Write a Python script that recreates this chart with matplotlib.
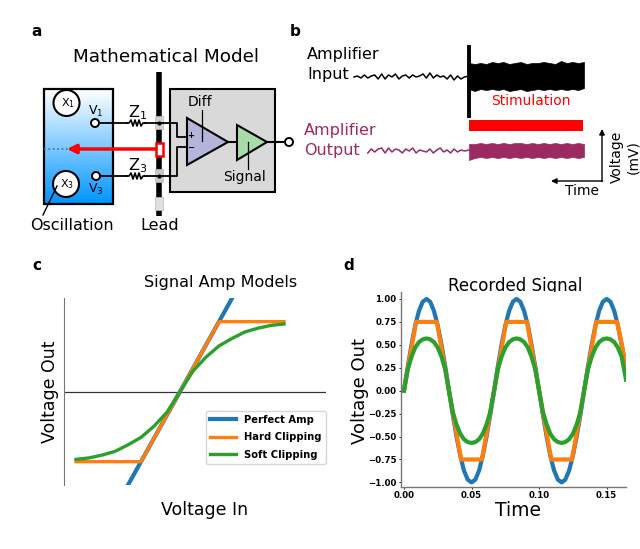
import numpy as np
import matplotlib
matplotlib.use('Agg')
import matplotlib.pyplot as plt
from matplotlib.patches import Rectangle, Circle, Polygon
from matplotlib.colors import LinearSegmentedColormap

W, H = 640, 549

# panel b traces
pre_time = [-1.0, -0.97, -0.94, -0.91, -0.88, -0.85, -0.82, -0.79, -0.76, -0.73, -0.70, -0.67, -0.64, -0.61, -0.58, -0.55,
            -0.52, -0.49, -0.46, -0.43, -0.40, -0.37, -0.34, -0.31, -0.28, -0.25, -0.22, -0.19, -0.16, -0.13, -0.10, -0.07, -0.04, 0.0]
input_pre = [0, 1, -1, 2, -1, 1, 2, -2, 3, -2, 2, 0, 3, -2, 1, 2, -1, 2, 0, 1, 3, -1, 4, -1, 2, 0, 1, -2, 2, -3, 1, -2, 0, 1]
output_pre = [0, -1, 1, 3, -2, 2, -1, 2, 3, -2, 3, -1, 2, 1, -2, 2, 0, 3, -2, 1, 0, -1, 2, -2, 1, 3, -1, 1, -2, 2, -1, 1, 0, 1]

stim_time = [0.0, 0.05, 0.1, 0.15, 0.2, 0.25, 0.3, 0.35, 0.4, 0.45, 0.5, 0.55, 0.6, 0.65, 0.7, 0.75, 0.8, 0.85, 0.9, 0.95, 1.0]
input_top = [14, 13, 14, 13, 15, 14, 15, 13, 14, 15, 13, 14, 14, 15, 14, 13, 16, 14, 15, 14, 15]
input_bottom = [-12, -14, -12, -13, -12, -13, -12, -14, -13, -12, -14, -13, -12, -13, -12, -13, -12, -13, -12, -13, -11]
output_top = [7, 7, 8, 7, 8, 7, 8, 7, 8, 8, 7, 8, 7, 8, 7, 8, 7, 8, 7, 8, 7]
output_bottom = [-9, -7, -6, -7, -6, -7, -6, -7, -6, -7, -6, -7, -6, -7, -6, -7, -6, -7, -6, -7, -6]
spike_time = [0.0, 0.0]
spike_volt = [32, -41]

# panel c
c_in = [-2.0, -1.75, -1.5, -1.25, -1.0, -0.75, -0.5, -0.25, 0.0, 0.25, 0.5, 0.75, 1.0, 1.25, 1.5, 1.75, 2.0]
c_perfect = [-2.0, -1.75, -1.5, -1.25, -1.0, -0.75, -0.5, -0.25, 0.0, 0.25, 0.5, 0.75, 1.0, 1.25, 1.5, 1.75, 2.0]
c_hard = [-0.75, -0.75, -0.75, -0.75, -0.75, -0.75, -0.5, -0.25, 0.0, 0.25, 0.5, 0.75, 0.75, 0.75, 0.75, 0.75, 0.75]
c_soft = [-0.725, -0.71, -0.68, -0.64, -0.57, -0.49, -0.37, -0.22, 0.0, 0.22, 0.37, 0.49, 0.57, 0.64, 0.68, 0.71, 0.725]
legend_labels = ['Perfect Amp', 'Hard Clipping', 'Soft Clipping']

# panel d
d_time = [0.0, 0.0028, 0.0056, 0.0083, 0.0111, 0.0139, 0.0167, 0.0194, 0.0222, 0.025, 0.0278, 0.0306,
          0.0333, 0.0361, 0.0389, 0.0417, 0.0444, 0.0472, 0.05, 0.0528, 0.0556, 0.0583, 0.0611, 0.0639,
          0.0667, 0.0694, 0.0722, 0.075, 0.0778, 0.0806, 0.0833, 0.0861, 0.0889, 0.0917, 0.0944, 0.0972,
          0.1, 0.1028, 0.1056, 0.1083, 0.1111, 0.1139, 0.1167, 0.1194, 0.1222, 0.125, 0.1278, 0.1306,
          0.1333, 0.1361, 0.1389, 0.1417, 0.1444, 0.1472, 0.15, 0.1528, 0.1556, 0.1583, 0.1611, 0.1643]
d_perfect = [0.0, 0.26, 0.5, 0.71, 0.87, 0.97, 1.0, 0.97, 0.87, 0.71, 0.5, 0.26,
             0.0, -0.26, -0.5, -0.71, -0.87, -0.97, -1.0, -0.97, -0.87, -0.71, -0.5, -0.26,
             0.0, 0.26, 0.5, 0.71, 0.87, 0.97, 1.0, 0.97, 0.87, 0.71, 0.5, 0.26,
             0.0, -0.26, -0.5, -0.71, -0.87, -0.97, -1.0, -0.97, -0.87, -0.71, -0.5, -0.26,
             0.0, 0.26, 0.5, 0.71, 0.87, 0.97, 1.0, 0.97, 0.87, 0.71, 0.5, 0.22]
d_soft = [0.0, 0.23, 0.37, 0.47, 0.53, 0.56, 0.57, 0.56, 0.53, 0.47, 0.37, 0.23,
          0.0, -0.23, -0.37, -0.47, -0.53, -0.56, -0.57, -0.56, -0.53, -0.47, -0.37, -0.23,
          0.0, 0.23, 0.37, 0.47, 0.53, 0.56, 0.57, 0.56, 0.53, 0.47, 0.37, 0.23,
          0.0, -0.23, -0.37, -0.47, -0.53, -0.56, -0.57, -0.56, -0.53, -0.47, -0.37, -0.23,
          0.0, 0.23, 0.37, 0.47, 0.53, 0.56, 0.57, 0.56, 0.53, 0.47, 0.37, 0.12]
hard_time = [0.0, 0.009, 0.0243, 0.0333, 0.0423, 0.0577, 0.0667, 0.0757, 0.091, 0.1, 0.109, 0.1243, 0.1333, 0.1423, 0.1577, 0.1643]
d_hard = [0.0, 0.75, 0.75, 0.0, -0.75, -0.75, 0.0, 0.75, 0.75, 0.0, -0.75, -0.75, 0.0, 0.75, 0.75, 0.28]
d_ticks = [-1.0, -0.75, -0.5, -0.25, 0.0, 0.25, 0.5, 0.75, 1.0]
d_xticks = [0.0, 0.05, 0.1, 0.15]

BLUE, ORANGE, GREEN = '#1f77b4', '#ff7f0e', '#2ca02c'
PURPLE = '#9b2a63'


def px_axes(fig, x0, y0, x1, y1):
    # box given in image pixels, y counted from the top
    return fig.add_axes([x0 / W, 1 - y1 / H, (x1 - x0) / W, (y1 - y0) / H])


fig = plt.figure(figsize=(6.4, 5.49), dpi=100)

# overlay for diagram and all free text, works in image pixels
ov = fig.add_axes([0, 0, 1, 1])
ov.set_xlim(0, W)
ov.set_ylim(H, 0)
ov.axis('off')


def txt(x, y, s, size=12, **kw):
    kw.setdefault('ha', 'center')
    kw.setdefault('va', 'center')
    ov.text(x, y, s, fontsize=size, **kw)


for x, y, s in [(37, 32, 'a'), (295, 32, 'b'), (37, 265, 'c'), (349, 266, 'd')]:
    txt(x, y, s, 11, fontweight='bold')

# panel a
txt(166, 57, 'Mathematical Model', 13.2)
cmap = LinearSegmentedColormap.from_list('bath', ['#ffffff', '#0095ff'])
ov.imshow(np.linspace(0, 1, 100)[:, None], cmap=cmap, extent=(44, 113, 204, 89), aspect='auto', zorder=1)
ov.set_xlim(0, W)
ov.set_ylim(H, 0)
ov.add_patch(Rectangle((44, 89), 69, 115, fill=False, ec='black', lw=1.6, zorder=2))
for cx, cy, lab in [(66.5, 103, 'X$_1$'), (66, 184, 'X$_3$')]:
    ov.add_patch(Circle((cx, cy), 13, fc='white', ec='black', lw=1.5, zorder=3))
    txt(cx + 1, cy, lab, 8, zorder=4)
ov.plot([57, 43], [186, 215], color='black', lw=1, zorder=5)

ov.add_patch(Rectangle((170, 89), 105, 103, fc='#d9d9d9', ec='black', lw=1.5, zorder=1))
ov.plot([159, 159], [72, 216], color='black', lw=4, solid_capstyle='butt', zorder=2)
for yy, shade in [(116, '#d0d0d0'), (169, '#c8c8c8'), (197, '#e0e0e0')]:
    ov.add_patch(Rectangle((155, yy), 7.5, 13, fc=shade, ec='#bbbbbb', lw=0.5, zorder=3))
ov.add_patch(Rectangle((155.5, 142.5), 7, 13, fc='white', ec='red', lw=1.8, zorder=4))

zig_x = [127, 129, 131, 133, 135, 137, 139, 141, 143, 145]
zig_a = [123, 123, 120, 126, 120, 126, 120, 126, 123, 123]
ov.plot([100, 127], [123, 123], 'k', lw=1.3, zorder=4)
ov.plot(zig_x, zig_a, 'k', lw=1.2, zorder=4)
ov.plot([145, 177, 177, 187], [123, 123, 137, 137], 'k', lw=1.3, zorder=4)
zig_b = [176, 176, 173, 179, 173, 179, 173, 179, 176, 176]
ov.plot([100, 127], [176, 176], 'k', lw=1.3, zorder=4)
ov.plot(zig_x, zig_b, 'k', lw=1.2, zorder=4)
ov.plot([145, 177, 177, 187], [176, 176, 147, 147], 'k', lw=1.3, zorder=4)
ov.plot([159, 159], [123, 176], 'k', marker='o', ms=2, lw=0, zorder=5)
for cx, cy in [(95, 123), (96, 176), (289, 142)]:
    ov.add_patch(Circle((cx, cy), 4, fc='white', ec='black', lw=1.4, zorder=5))
ov.plot([228, 237], [142, 142], 'k', lw=1.5, zorder=2)
ov.plot([267, 285], [142, 142], 'k', lw=1.5, zorder=2)
ov.add_patch(Polygon([(187, 118), (187, 165), (228, 142)], fc='#b5b5dc', ec='black', lw=1.5, zorder=3))
ov.add_patch(Polygon([(237, 125), (237, 160), (267, 142)], fc='#a8dba8', ec='black', lw=1.5, zorder=3))
ov.plot([202, 202], [110, 141], 'k', lw=0.9, zorder=4)
ov.plot([248, 248], [142, 169], 'k', lw=0.9, zorder=4)
ov.plot([44, 68], [149, 149], color='#3c6e9c', lw=1.2, ls=':', zorder=3)
ov.annotate('', xy=(67, 149), xytext=(155, 149), zorder=6,
            arrowprops=dict(arrowstyle='-|>', color='red', lw=2.5, mutation_scale=13, shrinkA=0, shrinkB=0))
txt(191, 136, '+', 6, fontweight='bold', zorder=5)
txt(191, 148, '\u2212', 6, fontweight='bold', zorder=5)
txt(138, 113, 'Z$_1$', 11.5)
txt(138, 166, 'Z$_3$', 11.5)
txt(96, 111, 'V$_1$', 9)
txt(96, 189, 'V$_3$', 9)
txt(200, 102, 'Diff', 10)
txt(245, 177, 'Signal', 10)
txt(72, 225, 'Oscillation', 11.5)
txt(160, 225, 'Lead', 11.5)

# panel b
txt(307, 54, 'Amplifier', 11.5, ha='left')
txt(307, 75, 'Input', 11.5, ha='left')
txt(304, 130, 'Amplifier', 11.5, ha='left', color=PURPLE)
txt(304, 151, 'Output', 11.5, ha='left', color=PURPLE)
txt(531, 101, 'Stimulation', 10, color='red')
ov.add_patch(Rectangle((469, 120), 114, 11, fc='red', ec='none'))
ov.annotate('', xy=(602, 129), xytext=(602, 181.5),
            arrowprops=dict(arrowstyle='-|>', color='black', lw=1, mutation_scale=8, shrinkA=0, shrinkB=0))
ov.annotate('', xy=(551, 181), xytext=(602.5, 181),
            arrowprops=dict(arrowstyle='-|>', color='black', lw=1, mutation_scale=8, shrinkA=0, shrinkB=0))
txt(582, 191, 'Time', 10)
txt(617, 157, 'Voltage', 10, rotation=90)
txt(633, 157, '(mV)', 10, rotation=90)

ax_in = px_axes(fig, 340, 32, 590, 122)
ax_in.set_xlim((340 - 469) / 115, (590 - 469) / 115)
ax_in.set_ylim(-45, 45)
ax_in.axis('off')
ax_in.plot(pre_time, input_pre, color='black', lw=1.1)
ax_in.fill_between(stim_time, input_bottom, input_top, color='black', lw=0.5)
ax_in.plot(spike_time, spike_volt, color='black', lw=2.8, solid_capstyle='butt')

ax_out = px_axes(fig, 340, 121, 590, 181)
ax_out.set_xlim((340 - 469) / 115, (590 - 469) / 115)
ax_out.set_ylim(-30, 30)
ax_out.axis('off')
ax_out.plot([t for t in pre_time if t > -0.9], output_pre[-len([t for t in pre_time if t > -0.9]):], color=PURPLE, lw=1.1)
ax_out.fill_between(stim_time, output_bottom, output_top, color=PURPLE, lw=0.5)

# panel c
ax_c = px_axes(fig, 64.3, 298.3, 326, 485)
ax_c.set_xlim((64.3 - 180) / 52, (326 - 180) / 52)
ax_c.set_ylim(-1, 1)
ax_c.plot(c_in, c_perfect, color=BLUE, lw=3, label=legend_labels[0])
ax_c.plot(c_in, c_hard, color=ORANGE, lw=2.4, label=legend_labels[1])
ax_c.plot(c_in, c_soft, color=GREEN, lw=2.4, label=legend_labels[2])
ax_c.axhline(0, color='#333333', lw=0.9, zorder=1)
for side in ['top', 'right', 'bottom']:
    ax_c.spines[side].set_visible(False)
ax_c.spines['left'].set_color('#777777')
ax_c.set_xticks([])
ax_c.set_yticks([])
leg = ax_c.legend(loc='lower right', bbox_to_anchor=(1.0, 0.115), borderaxespad=0,
                  prop={'size': 7.2, 'weight': 'bold'}, handlelength=2.6, labelspacing=0.75)
txt(221, 282, 'Signal Amp Models', 11.5)
txt(205, 510, 'Voltage In', 12.5)
txt(50, 392, 'Voltage Out', 12.5, rotation=90)

# panel d
ax_d = px_axes(fig, 400.7, 292, 626, 487)
ax_d.set_xlim(-0.0024, 0.1643)
ax_d.set_ylim(-1.05, 1.076)
ax_d.plot(d_time, d_perfect, color=BLUE, lw=3)
ax_d.plot(hard_time, d_hard, color=ORANGE, lw=3)
ax_d.plot(d_time, d_soft, color=GREEN, lw=3)
for side in ['top', 'right']:
    ax_d.spines[side].set_visible(False)
for side in ['left', 'bottom']:
    ax_d.spines[side].set_color('#777777')
    ax_d.spines[side].set_linewidth(1.0)
ax_d.set_xticks(d_xticks)
ax_d.set_xticklabels(['%.2f' % v for v in d_xticks], fontweight='bold', fontsize=6.2)
ax_d.set_yticks(d_ticks)
ax_d.set_yticklabels([('%.2f' % v).replace('-', '\u2212') for v in d_ticks], fontweight='bold', fontsize=6.2)
ax_d.tick_params(length=1.5, width=0.6, pad=1.5)
txt(515, 286, 'Recorded Signal', 12)
txt(518, 510, 'Time', 13.5)
txt(360, 391, 'Voltage Out', 13, rotation=90)

fig.savefig('out.png', dpi=100)
